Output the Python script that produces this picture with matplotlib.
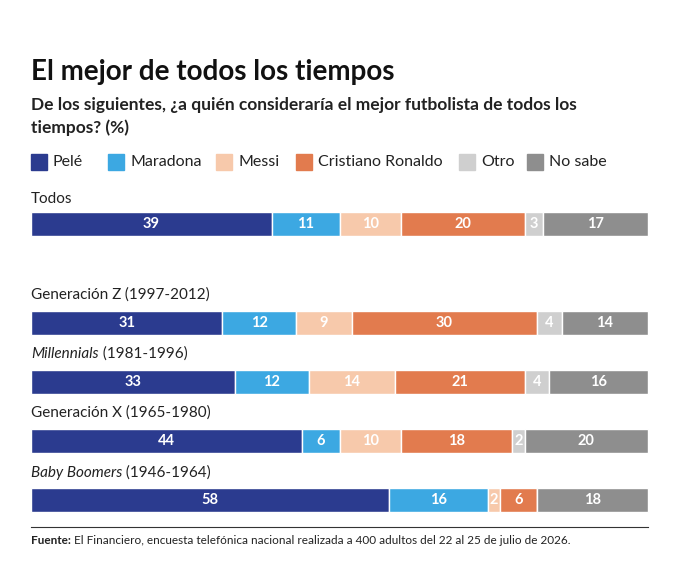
import matplotlib
matplotlib.use('Agg')
import matplotlib.pyplot as plt
import numpy as np

plt.rcParams['font.family'] = ['Lato', 'DejaVu Sans']

categories = ["Pelé", "Maradona", "Messi", "Cristiano Ronaldo", "Otro", "No sabe"]
colors = ["#2b3b8f", "#3ca8e2", "#f7c9ab", "#e27b4e", "#cfcfcf", "#8e8e8e"]
groups = ["Todos", "Generación Z", "Millennials", "Generación X", "Baby Boomers"]
group_years = ["", " (1997-2012)", " (1981-1996)", " (1965-1980)", " (1946-1964)"]
group_italic = [False, False, True, False, True]
values = [
    [39, 11, 10, 20, 3, 17],
    [31, 12, 9, 30, 4, 14],
    [33, 12, 14, 21, 4, 16],
    [44, 6, 10, 18, 2, 20],
    [58, 16, 2, 6, 0, 18],
]

W, H = 680, 584
fig = plt.figure(figsize=(W / 100, H / 100), dpi=100)
ax = fig.add_axes([0, 0, 1, 1])
x0, x1 = 31, 648
sc = (x1 - x0) / 100
ax.set_xlim(-x0 / sc, (W - x0) / sc)
ax.set_ylim(H, 0)
ax.axis('off')

bar_y = [224, 323, 382, 441, 500]
lab_y = [199, 295, 354, 413, 473]
for g, yrs, it, vals, by, ly in zip(groups, group_years, group_italic, values, bar_y, lab_y):
    ax.barh(by, vals, left=np.concatenate([[0], np.cumsum(vals)[:-1]]),
            height=24, color=colors, edgecolor='white', linewidth=1)
    left = 0
    for v in vals:
        if v > 0:
            ax.text(left + v / 2, by, str(v), ha='center', va='center',
                    color='white', fontsize=10.5, fontweight='bold')
        left += v
    t = ax.text(0, ly, g, ha='left', va='center', fontsize=11,
                style='italic' if it else 'normal', color='#222222')
    if yrs:
        ax.annotate(yrs, xy=(1, 0.5), xycoords=t, va='center', ha='left',
                    fontsize=11, color='#222222')

fig.text(31 / W, 1 - 72 / H, "El mejor de todos los tiempos", fontsize=20,
         fontweight='bold', va='center', color='#111111')
fig.text(31 / W, 1 - 105 / H, "De los siguientes, ¿a quién consideraría el mejor futbolista de todos los",
         fontsize=12.5, fontweight='bold', va='center', color='#222222')
fig.text(31 / W, 1 - 128 / H, "tiempos? (%)", fontsize=12.5, fontweight='bold',
         va='center', color='#222222')

leg_x = [31, 108, 216, 296, 459, 527]
for c, col, lx in zip(categories, colors, leg_x):
    ax.add_patch(plt.Rectangle(((lx - x0) / sc, 154), 16 / sc, 16, color=col))
    ax.text((lx + 22 - x0) / sc, 162, c, va='center', ha='left', fontsize=11.5,
            color='#222222')

ax.plot([0, 100], [527, 527], color='#333333', lw=0.8)
src = fig.text(31 / W, 1 - 540 / H, "Fuente:", fontsize=8.5, fontweight='bold',
               va='center', color='#222222')
ax.annotate(" El Financiero, encuesta telefónica nacional realizada a 400 adultos del 22 al 25 de julio de 2026.",
            xy=(1, 0.5), xycoords=src, va='center', ha='left', fontsize=8.5,
            color='#222222')

fig.savefig("out.png", dpi=100)
